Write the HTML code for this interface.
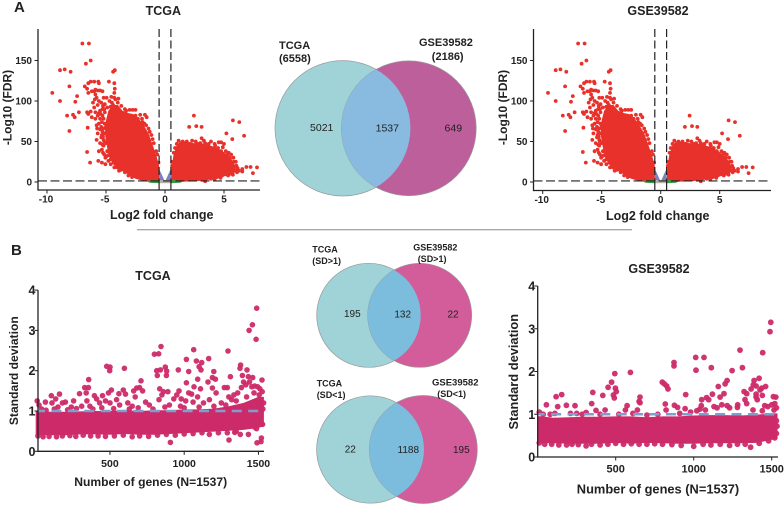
<!DOCTYPE html>
<html><head><meta charset="utf-8"><title>Volcano, Venn and SD plots</title>
<style>
html,body{margin:0;padding:0;background:#fff;width:784px;height:505px;overflow:hidden}
svg{display:block}
text{font-family:"Liberation Sans",sans-serif;fill:#222}
.b{font-weight:bold}
</style></head><body>
<svg id="fig" width="784" height="505" viewBox="0 0 784 505" xmlns="http://www.w3.org/2000/svg">
<defs>
<clipPath id="c1"><circle cx="342.7" cy="128.3" r="67.7"/></clipPath>
<clipPath id="c2"><circle cx="368.7" cy="315.3" r="52"/></clipPath>
<clipPath id="c3"><circle cx="370.3" cy="449.5" r="53.7"/></clipPath>
</defs>
<text class="b" x="14" y="12" font-size="15">A</text>
<text class="b" x="11" y="255" font-size="15">B</text>
<line x1="137" x2="632" y1="229.7" y2="229.7" stroke="#888" stroke-width="1"/>

<g>
<circle cx="342.7" cy="128.3" r="67.7" fill="#9fd3d8" stroke="#999" stroke-width=".7"/>
<circle cx="408.8" cy="128.3" r="67.4" fill="#bc5f9b" stroke="#999" stroke-width=".7"/>
<circle cx="408.8" cy="128.3" r="67.4" fill="#88bbdf" clip-path="url(#c1)"/>
<text class="b" x="279" y="49" font-size="11">TCGA</text>
<text class="b" x="279" y="62" font-size="11">(6558)</text>
<text class="b" x="419" y="46" font-size="11">GSE39582</text>
<text class="b" x="447.7" y="60" font-size="11" text-anchor="middle">(2186)</text>
<text x="321.7" y="131" font-size="10.5" text-anchor="middle">5021</text>
<text x="387.3" y="131.5" font-size="10.5" text-anchor="middle">1537</text>
<text x="453.3" y="131.5" font-size="10.5" text-anchor="middle">649</text>
</g>

<g>
<circle cx="368.7" cy="315.3" r="52" fill="#9fd3d8" stroke="#999" stroke-width=".7"/>
<circle cx="419.7" cy="315.3" r="52" fill="#d35c9a" stroke="#999" stroke-width=".7"/>
<circle cx="419.7" cy="315.3" r="52" fill="#7cbcdc" clip-path="url(#c2)"/>
<text class="b" x="312.3" y="252.7" font-size="9">TCGA</text>
<text class="b" x="312.3" y="264" font-size="9">(SD&gt;1)</text>
<text class="b" x="413.3" y="250.7" font-size="9">GSE39582</text>
<text class="b" x="417.7" y="262" font-size="9">(SD&gt;1)</text>
<text x="352.3" y="317" font-size="10" text-anchor="middle">195</text>
<text x="402.7" y="317.5" font-size="10" text-anchor="middle">132</text>
<text x="453" y="317.5" font-size="10" text-anchor="middle">22</text>
</g>

<g>
<circle cx="370.3" cy="449.5" r="53.7" fill="#9fd3d8" stroke="#999" stroke-width=".7"/>
<circle cx="423.3" cy="449.5" r="54" fill="#d35c9a" stroke="#999" stroke-width=".7"/>
<circle cx="423.3" cy="449.5" r="54" fill="#7cbcdc" clip-path="url(#c3)"/>
<text class="b" x="316.7" y="386.7" font-size="9">TCGA</text>
<text class="b" x="316.7" y="398" font-size="9">(SD&lt;1)</text>
<text class="b" x="432" y="385.7" font-size="9.5">GSE39582</text>
<text class="b" x="437.3" y="397" font-size="9">(SD&lt;1)</text>
<text x="350.3" y="452.5" font-size="10" text-anchor="middle">22</text>
<text x="408.3" y="453" font-size="10" text-anchor="middle">1188</text>
<text x="461.3" y="453" font-size="10" text-anchor="middle">195</text>
</g>
</svg>
<script>
// ---------- chart data ----------
const volcanoXTicks=[-10,-5,0,5];
const volcanoYTicks=[0,50,100,150];
const sdXTicks=[500,1000,1500];
const sdYTicks=[0,1,2,3,4];
const sdThreshold=1;
const fcCutoff=0.5;
const fdrCutoff=1.3;
// dense down-regulated cloud outline (log2FC, -log10 FDR)
const downCloudFc=[-0.5,-0.5,-0.7,-1,-1.4,-1.8,-2.2,-2.7,-3.1,-3.6,-4,-4.4,-4.8,-5.1,-5.05,-4.9,-4.7,-4.4,-4,-3.5,-3,-2.5,-2,-1.5,-0.8];
const downCloudFdr=[2,20,31,44,60,70,78,84,85,88,95,95,88,70,55,42,30,22,17,13,8,4,2,1,1];
// dense up-regulated cloud outline
const upCloudFc=[0.5,0.55,0.7,0.95,1.3,1.8,2.4,3,3.6,4.3,4.9,5.4,5.9,6,5.6,5,4.3,3.5,2.6,1.8,0.5];
const upCloudFdr=[1,15,32,44,50,50,48,48,46,43,38,32,22,13,8,7,5,2,1,0.5,1];
// individually visible genes
const volcanoDown=[[-7,171],[-6.45,171],[-6.7,146],[-6.3,150],[-9.55,110],[-8.9,100],[-8.9,138],[-8.5,139],[-8,136],[-8.1,118],[-8.3,82],[-7.8,83],[-7.65,80],[-8.1,63],[-7.45,106],[-7.3,86],[-7.6,99],[-4.4,136],[-4.25,138],[-4.3,122],[-4.25,115],[-4.3,110],[-4.75,124],[-5.65,124],[-5.6,122],[-6,124],[-6.3,124],[-6.5,122],[-6.8,118],[-6.6,115],[-6.5,110],[-6.2,112],[-6,112],[-5.9,114],[-5.7,113],[-5.5,113],[-5.3,112],[-5.9,108],[-5.8,104],[-5.6,100],[-5.7,95],[-5.2,104],[-5.1,96],[-4.9,92],[-4.7,100],[-4.5,98],[-4.2,102],[-3.95,103],[-4.4,95],[-4.6,93],[-5.3,90],[-5.5,88],[-5.1,86],[-5.6,85],[-5.9,86],[-6.3,87],[-6.6,86],[-6.5,84],[-6.2,80],[-5.9,78],[-5.5,78],[-5.2,78],[-5.6,72],[-5.8,70],[-5.1,72],[-5,68],[-6.55,67],[-5.5,65],[-5.3,62],[-5.7,60],[-5.1,60],[-5.4,55],[-5.2,52],[-5.8,52],[-5.5,48],[-5.2,45],[-5.35,40],[-5.6,38],[-6.6,37],[-6.35,24],[-5.65,26],[-5.35,24],[-5.05,30],[-4.8,26],[-4.6,22],[-4.3,18],[-3.9,14],[-5.05,22],[-3.3,88],[-3,89],[-2.75,89],[-2.5,89],[-3.5,80],[-3.75,82],[-2.1,83],[-1.7,83],[-1.55,80],[-1.95,78],[-1.6,70],[-1.75,72],[-2.3,78],[-1.3,62],[-1.05,53],[-0.75,38],[-2.5,82],[-4.9,38],[-4.7,50],[-5,48],[-4.8,78],[-4.6,82],[-4.4,86],[-4.1,92],
[-5.4,98],[-5.25,94],[-5.45,84],[-5.3,82],[-5.15,90],[-5.35,74],[-5.4,68],[-5.2,66],[-5.35,58],[-5.25,56],[-5.15,50],[-5.3,46],[-5.25,36],[-5.15,34],[-4.95,32],[-4.8,33],[-4.6,28],[-4.35,24],[-4.05,18],[-3.7,15],[-3.4,12],[-3.1,8],[-2.8,6],[-5.7,82],[-5.75,66],[-6,92],[-6.1,98],[-5.95,102],[-4.95,104],[-4.55,105],[-4.3,104],[-4,98],[-3.7,94],[-3.4,90],[-1.9,74],[-1.4,66],[-1.15,58],[-0.95,48],[-0.65,34],[-0.55,24]];
const volcanoUp=[[2.45,82],[2.05,68],[2.65,69],[3.1,68],[5.75,76],[6.3,74],[6.7,57],[5.2,60],[5.7,53],[6.9,18.5],[7.25,18.5],[7.8,18],[6.55,16],[6.55,13],[7.45,11],[1.15,51],[1.5,50],[1.85,50],[2.3,51],[2.6,50],[3.1,54],[3,48],[3.4,48],[3.7,47],[3.55,44],[4.25,45],[4.55,49],[4.75,49],[5,47],[4.5,42],[4.35,38],[4.1,41],[4.6,36],[4.75,38],[5.05,33],[5.3,34],[5.6,34],[5.5,30],[5.2,31],[4.95,28],[5.55,26],[5.85,25],[6,25],[5.7,22],[6.05,20],[5.95,14],[6.1,12],[5.6,14],[5.4,12],[5.2,11],[4.85,8],[4.4,6],[3.9,4],[5.45,20],[4.2,32],[3.8,38],[2.8,47],[2.1,47],[1.4,48],[0.85,42],[0.6,25],[5.85,18],
[3.3,51],[3.9,50],[4.2,47],[4.9,43],[5.15,38],[5.4,36],[5.8,30],[6.15,17],[6.25,14],[5.75,9],[5.35,8],[4.7,5],[4.2,3],[3.4,1],[1.0,47],[0.75,36],[0.6,20]];
// SD panel band: gene bins with the lower/upper extent of the solid band
const sdBandGenes=[0,100,200,300,400,500,600,700,800,900,1000,1100,1200,1300,1400,1500,1537];
const tcgaBandLow=[0.40,0.40,0.40,0.42,0.42,0.41,0.43,0.41,0.41,0.43,0.45,0.47,0.49,0.51,0.53,0.58,0.62];
const tcgaBandHigh=[1,0.98,0.98,0.99,1,1,1.02,1,1.02,1.02,1.04,1.04,1.06,1.12,1.2,1.35,1.35];
const gseBandLow=[0.33,0.32,0.31,0.31,0.31,0.33,0.31,0.33,0.32,0.31,0.31,0.32,0.32,0.32,0.33,0.4,0.44];
const gseBandHigh=[0.96,0.92,0.93,0.94,0.94,0.95,0.95,0.93,0.95,0.95,0.97,0.98,0.98,0.97,0.99,1.02,1.02];
// SD panel individual genes
const tcgaSd=[[1488,3.55],[1459,3.14],[1437,3],[1484,2.78],[1295,2.49],[1064,2.52],[844,2.6],[799,2.41],[828,2.42],[478,2.11],[500,2.09],[498,2],[597,2.06],[357,1.78],[709,1.75],[873,2.09],[840,2.02],[815,2],[819,1.88],[882,1.99],[880,1.88],[960,2.02],[1015,2.28],[1082,2.24],[1118,2.2],[1165,2.3],[1100,2.1],[1113,2.02],[1030,1.98],[1199,1.98],[1015,1.7],[1091,1.79],[1190,1.83],[1210,1.79],[1311,1.85],[1380,2.14],[1376,2.06],[1423,2.02],[1392,1.88],[1432,1.85],[1461,1.83],[1524,1.77],[907,0.22],[1302,0.28],[1490,0.21],[1517,0.24],[1520,0.33],[1528,0.67],[1432,0.42],[1378,0.42],[1475,0.6],[1487,0.56],[1340,0.47],
[10,1.25],[22,1.15],[40,1.05],[65,1.22],[105,1.38],[110,1.2],[135,1.3],[160,1.42],[150,1.1],[180,1.2],[200,1.22],[240,1.1],[255,1.25],[295,1.43],[310,1.12],[330,1.58],[355,1.58],[340,1.45],[345,1.25],[365,1.12],[395,1.38],[410,1.3],[430,1.2],[450,1.38],[470,1.25],[490,1.45],[510,1.52],[500,1.2],[545,1.28],[560,1.43],[590,1.52],[565,1.15],[605,1.42],[620,1.2],[660,1.5],[670,1.35],[680,1.57],[700,1.58],[720,1.5],[650,1.12],[740,1.22],[765,1.15],[835,1.55],[860,1.48],[850,1.4],[890,1.48],[830,1.28],[900,1.15],[930,1.3],[950,1.4],[965,1.5],[980,1.3],[975,1.12],[1010,1.25],[1030,1.45],[1050,1.42],[1060,1.22],[1066,1.6],[1090,1.35],[1110,1.55],[1130,1.2],[1160,1.72],[1170,1.28],[1190,1.57],[1215,1.45],[1250,1.2],[1270,1.58],[1290,1.58],[1300,1.35],[1320,1.28],[1335,1.4],[1360,1.45],[1385,1.58],[1400,1.72],[1415,1.65],[1440,1.72],[1455,1.6],[1475,1.62],[1495,1.6],[1510,1.55],[1525,1.48],[1535,1.2],[1530,1.05],
[15,0.38],[50,0.36],[90,0.37],[140,0.36],[180,0.38],[230,0.39],[270,0.37],[320,0.4],[370,0.38],[420,0.38],[470,0.37],[530,0.38],[590,0.4],[650,0.36],[700,0.38],[760,0.37],[820,0.4],[880,0.42],[940,0.4],[1000,0.43],[1060,0.44],[1120,0.46],[1170,0.42],[1230,0.46],[1290,0.46],[1350,0.5],
[70,1.02],[125,1.05],[215,1.03],[275,1.06],[385,1.05],[445,1.08],[525,1.06],[630,1.05],[690,1.08],[790,1.05],[870,1.1],[1000,1.08],[1100,1.1],[1200,1.12],[1280,1.15],[1350,1.25],[1420,1.35],[1470,1.45],[1505,1.4]];
const gseSd=[[1494,3.15],[1489,2.93],[1442,2.44],[1297,2.5],[1312,2.09],[1246,2.02],[1113,2.09],[1066,2.33],[1013,2.33],[1015,2.03],[874,2.21],[874,2.13],[594,1.98],[494,1.95],[474,1.75],[451,1.63],[498,1.61],[504,1.53],[485,1.45],[491,1.38],[417,1.44],[353,1.51],[346,1.25],[118,1.41],[154,1.46],[128,1.18],[56,1.22],[184,1.21],[239,1.2],[310,1.04],[374,1.09],[432,1.1],[573,1.2],[562,1.1],[656,1.4],[650,1.3],[656,1.27],[639,1.1],[799,1.75],[812,1.71],[827,1.66],[835,1.59],[818,1.24],[823,1.1],[876,1.21],[897,1.16],[949,1.46],[945,1.13],[1051,1.34],[1049,1.2],[1083,1.39],[1096,1.34],[1120,1.47],[1158,1.65],[1169,1.4],[1194,1.48],[1201,1.71],[1214,1.79],[1282,1.22],[1280,1.16],[1323,1.53],[1340,1.48],[1329,1.34],[1368,1.59],[1387,1.79],[1382,1.69],[1400,1.66],[1419,1.84],[1425,1.57],[1436,1.61],[1461,1.65],[1440,1.44],[1400,1.47],[1408,1.34],[1400,1.4],[1511,1.41],[1526,1.4],[1520,1.25],[1500,1.22],[1530,1.15],[1515,1.1],[1365,0.23],
[1020,1.08],[1040,1.12],[1075,1.1],[1130,1.18],[1150,1.15],[1180,1.22],[1215,1.2],[1230,1.15],[1340,1.25],[1380,1.1],[1455,1.2],[1475,1.18],[1440,1.08],
[10,1.05],[35,1],[80,1],[110,1.02],[210,1.02],[250,1.02],[285,1],[400,1],[520,1],[610,1.02],[700,0.98],[770,1],[910,1.02],[980,1.05],
[10,0.33],[45,0.3],[90,0.3],[135,0.28],[185,0.28],[220,0.3],[260,0.29],[310,0.26],[345,0.3],[400,0.28],[450,0.3],[500,0.32],[550,0.3],[600,0.31],[650,0.3],[700,0.3],[750,0.31],[800,0.3],[860,0.29],[920,0.27],[1000,0.25],[1060,0.3],[1110,0.28],[1170,0.3],[1230,0.27],[1280,0.3],[1330,0.3],[1420,0.32],[1480,0.38],[1520,0.45],[1530,0.55],[1534,0.72],[1530,0.85]];

// ---------- drawing helpers ----------
const svg=document.getElementById('fig');
const NS='http://www.w3.org/2000/svg';
function mk(tag,attrs,parent,txt){
  const el=document.createElementNS(NS,tag);
  for(const k in attrs)el.setAttribute(k,attrs[k]);
  if(txt!==undefined)el.textContent=txt;
  (parent||svg).appendChild(el);
  return el;
}
function polyPoints(xs,ys,sx,sy){return xs.map((v,i)=>sx(v).toFixed(1)+','+sy(ys[i]).toFixed(1)).join(' ');}

function drawVolcano(o){
  const sx=v=>o.x0+v*o.kx, sy=v=>o.y0-v*o.ky;
  const g=mk('g',{});
  
  
  const red='#e8312b';
  const down=mk('polygon',{points:polyPoints(downCloudFc,downCloudFdr,sx,sy),fill:red},g);
  
  
  const up=mk('polygon',{points:polyPoints(upCloudFc,upCloudFdr,sx,sy),fill:red},g);
  
  
  volcanoDown.concat(volcanoUp).forEach(p=>{
    const c=mk('circle',{cx:sx(p[0]).toFixed(1),cy:sy(p[1]).toFixed(1),r:1.9,fill:red},g);
    
    
  });
  // not-significant wedges
  [-1,1].forEach(s=>{
    const w=mk('polygon',{points:polyPoints([s*fcCutoff,s*fcCutoff,s*0.3,s*0.05],[1,16,10,2],sx,sy),fill:'#7b80c2'},g);
    
    
    const gr=mk('polygon',{points:polyPoints([s*fcCutoff,s*1.6,s*1.3,s*fcCutoff],[3.5,1.2,-1,-1.5],sx,sy),fill:'#3b9a41'},g);
    
    
  });
  const box=mk('rect',{x:sx(-fcCutoff),y:sy(fdrCutoff+1),width:sx(fcCutoff)-sx(-fcCutoff),height:sy(-1.5)-sy(fdrCutoff+1),fill:'#b9b1a8'},g);
  
  
  // thresholds
  const hl=mk('line',{x1:o.left,x2:o.right,y1:sy(fdrCutoff),y2:sy(fdrCutoff),stroke:'#222','stroke-width':1.1,'stroke-dasharray':'9 3.5'},g);
  
  
  [-fcCutoff,fcCutoff].forEach(v=>{
    const l=mk('line',{x1:sx(v),x2:sx(v),y1:o.top,y2:sy(0),stroke:'#222','stroke-width':1.2,'stroke-dasharray':'8 3.5'},g);
    
    
    const l2=mk('line',{x1:sx(v),x2:sx(v),y1:sy(0),y2:o.bottom,stroke:'#222','stroke-width':1.2},g);
    
    
  });
  // axes
  const ya=mk('line',{x1:o.left,x2:o.left,y1:o.top,y2:o.bottom+.6,stroke:'#222','stroke-width':1.3},g);
  
  
  const xa=mk('line',{x1:o.left,x2:o.right,y1:o.bottom,y2:o.bottom,stroke:'#222','stroke-width':1.3},g);
  
  
  volcanoXTicks.forEach(v=>{
    const t=mk('line',{x1:sx(v),x2:sx(v),y1:o.bottom,y2:o.bottom+3.5,stroke:'#222','stroke-width':1},g);
    
    
    const l=mk('text',{x:sx(v)-(v<0?1:0),y:o.bottom+12.5,'font-size':10,'text-anchor':'middle','font-weight':'bold',fill:'#333'},g,String(v));
    
    
  });
  volcanoYTicks.forEach(v=>{
    const t=mk('line',{x1:o.left-3.5,x2:o.left,y1:sy(v),y2:sy(v),stroke:'#222','stroke-width':1},g);
    
    
    const l=mk('text',{x:o.left-6,y:sy(v)+3.5,'font-size':10,'text-anchor':'end','font-weight':'bold',fill:'#333'},g,String(v));
    
    
  });
  const ti=mk('text',{x:o.titleX,y:15,'font-size':12.5,'text-anchor':'middle','font-weight':'bold'},g,o.title);
  
  
  const xt=mk('text',{x:o.xTitleX,y:o.xTitleY,'font-size':12.5,'text-anchor':'middle','font-weight':'bold'},g,'Log2 fold change');
  
  
  const yt=mk('text',{transform:'translate('+o.yTitleX+',107.5) rotate(-90)','font-size':12,'text-anchor':'middle','font-weight':'bold'},g,'-Log10 (FDR)');
  
  
}

function drawSd(o){
  const sx=v=>o.x0+v*o.kx, sy=v=>o.y0-v*o.ky;
  const g=mk('g',{});
  
  
  const col='#cc2a68';
  const band=mk('polygon',{points:polyPoints(sdBandGenes.concat(sdBandGenes.slice().reverse()),o.high.concat(o.low.slice().reverse()),sx,sy),fill:col},g);
  
  
  o.pts.forEach(p=>{
    const c=mk('circle',{cx:sx(p[0]).toFixed(1),cy:sy(p[1]).toFixed(1),r:o.r,fill:col,'fill-opacity':.95},g);
    
    
  });
  const d=mk('line',{x1:o.left,x2:o.right,y1:sy(sdThreshold),y2:sy(sdThreshold),stroke:'#7c9fd0','stroke-width':2.6,'stroke-dasharray':'10 6.4','stroke-dashoffset':'3'},g);
  
  
  const ya=mk('line',{x1:o.left,x2:o.left,y1:o.y0-4*o.ky,y2:o.y0+.6,stroke:'#222','stroke-width':1.3},g);
  
  
  const xa=mk('line',{x1:o.left,x2:o.right,y1:o.y0,y2:o.y0,stroke:'#222','stroke-width':1.3},g);
  
  
  sdXTicks.forEach(v=>{
    const t=mk('line',{x1:sx(v),x2:sx(v),y1:o.y0,y2:o.y0+3.5,stroke:'#222','stroke-width':1},g);
    
    
    const l=mk('text',{x:sx(v),y:o.y0+15.5,'font-size':o.xts,'text-anchor':'middle','font-weight':'bold'},g,String(v));
    
    
  });
  sdYTicks.forEach(v=>{
    const t=mk('line',{x1:o.left-3.5,x2:o.left,y1:sy(v),y2:sy(v),stroke:'#222','stroke-width':1},g);
    
    
    const l=mk('text',{x:o.left-2.5,y:sy(v)+4.5,'font-size':12.5,'text-anchor':'end','font-weight':'bold'},g,String(v));
    
    
  });
  const ti=mk('text',{x:o.titleX,y:o.titleY,'font-size':12.5,'text-anchor':'middle','font-weight':'bold'},g,o.title);
  
  
  const xt=mk('text',{x:o.xTitleX,y:o.xTitleY,'font-size':o.ats,'text-anchor':'middle','font-weight':'bold'},g,'Number of genes (N=1537)');
  
  
  const yt=mk('text',{transform:'translate('+o.yTitleX+','+o.yTitleY+') rotate(-90)','font-size':o.ats,'text-anchor':'middle','font-weight':'bold'},g,'Standard deviation');
  
  
}

drawVolcano({name:'volcano-tcga',title:'TCGA',x0:165,kx:11.8,y0:182,ky:.81,left:38,right:260,top:29,bottom:190,titleX:163.3,xTitleX:161.7,xTitleY:219,yTitleX:11.5});
drawVolcano({name:'volcano-gse39582',title:'GSE39582',x0:660.7,kx:11.8,y0:182,ky:.81,left:533.5,right:771,top:29,bottom:190.5,titleX:658,xTitleX:657.7,xTitleY:220,yTitleX:507});
drawSd({name:'sd-scatter-tcga',title:'TCGA',x0:35.7,kx:.1485,y0:451.3,ky:40.3,left:38,right:264,r:2.8,pts:tcgaSd,low:tcgaBandLow,high:tcgaBandHigh,titleX:153,titleY:280,xTitleX:150.7,xTitleY:486,yTitleX:18,yTitleY:370.7,xts:10.5,ats:12.1});
drawSd({name:'sd-scatter-gse39582',title:'GSE39582',x0:537.7,kx:.156,y0:457,ky:42.75,left:537.7,right:778,r:2.9,pts:gseSd,low:gseBandLow,high:gseBandHigh,titleX:659,titleY:273,xTitleX:658,xTitleY:493.3,yTitleX:518,yTitleY:371.7,xts:11,ats:12.85});
</script>
</body></html>
